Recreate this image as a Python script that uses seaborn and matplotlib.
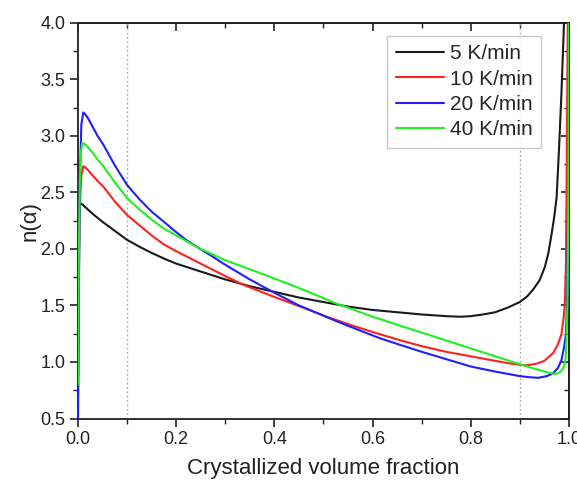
import numpy as np
import pandas as pd
import matplotlib
matplotlib.use("Agg")
import matplotlib.pyplot as plt
import seaborn as sns
from matplotlib.ticker import MultipleLocator, FormatStrFormatter

# ---- data ----
labels = ["5 K/min", "10 K/min", "20 K/min", "40 K/min"]
colors = ["#1a1a1a", "#ff2020", "#2020ff", "#20f020"]

x_5 = [0, 0.001, 0.003, 0.01, 0.02, 0.03, 0.05, 0.075, 0.1, 0.125, 0.15, 0.175,
       0.2, 0.25, 0.3, 0.35, 0.4, 0.45, 0.5, 0.55, 0.6, 0.65, 0.7, 0.75, 0.78,
       0.8, 0.825, 0.85, 0.875, 0.9, 0.915, 0.927, 0.94, 0.951, 0.958, 0.965,
       0.97, 0.975, 0.98, 0.985, 0.99, 0.992]
y_5 = [0.5, 1.9, 2.41, 2.39, 2.35, 2.31, 2.24, 2.16, 2.08, 2.02, 1.965, 1.915,
       1.87, 1.80, 1.73, 1.67, 1.62, 1.57, 1.53, 1.49, 1.46, 1.44, 1.42, 1.405, 1.40,
       1.405, 1.42, 1.44, 1.48, 1.53, 1.58, 1.64, 1.72, 1.84, 1.96, 2.14,
       2.28, 2.46, 2.9, 3.4, 4.0, 4.4]

x_10 = [0, 0.002, 0.004, 0.007, 0.011, 0.015, 0.02, 0.03, 0.04, 0.052, 0.075,
        0.1, 0.125, 0.15, 0.175, 0.2, 0.25, 0.3, 0.333, 0.35, 0.4, 0.45, 0.5,
        0.527, 0.55, 0.6, 0.65, 0.7, 0.75, 0.8, 0.85, 0.875, 0.9, 0.914, 0.934,
        0.95, 0.968, 0.978, 0.985, 0.99, 0.992, 0.994, 0.995, 0.996, 0.997, 0.998]
y_10 = [0.6, 1.8, 2.4, 2.65, 2.73, 2.72, 2.70, 2.65, 2.60, 2.55, 2.42,
        2.30, 2.21, 2.12, 2.04, 1.98, 1.87, 1.76, 1.69, 1.66, 1.575, 1.495, 1.41,
        1.37, 1.335, 1.265, 1.20, 1.14, 1.09, 1.05, 1.01, 0.99, 0.975, 0.97, 0.985,
        1.01, 1.08, 1.16, 1.25, 1.42, 1.55, 1.9, 2.43, 3.0, 3.6, 4.2]

x_20 = [0, 0.002, 0.004, 0.007, 0.011, 0.015, 0.02, 0.03, 0.04, 0.052, 0.075,
        0.1, 0.125, 0.15, 0.175, 0.194, 0.22, 0.245, 0.275, 0.3, 0.35, 0.401,
        0.45, 0.5, 0.527, 0.55, 0.6, 0.615, 0.65, 0.7, 0.75, 0.8, 0.85, 0.9,
        0.92, 0.9375, 0.955, 0.968, 0.978, 0.985, 0.99, 0.994, 0.996, 0.998,
        0.999, 1.0]
y_20 = [0.3, 1.6, 2.6, 3.1, 3.206, 3.19, 3.16, 3.08, 3.00, 2.92, 2.74,
        2.566, 2.44, 2.33, 2.24, 2.17, 2.08, 2.01, 1.93, 1.86, 1.73, 1.61,
        1.50, 1.41, 1.36, 1.32, 1.235, 1.21, 1.16, 1.09, 1.025, 0.96, 0.915, 0.875,
        0.865, 0.86, 0.875, 0.90, 0.95, 1.02, 1.13, 1.25, 1.5, 2.2,
        3.0, 4.5]

x_40 = [0, 0.002, 0.004, 0.006, 0.009, 0.013, 0.02, 0.03, 0.04, 0.052, 0.075,
        0.1, 0.125, 0.15, 0.175, 0.208, 0.245, 0.3, 0.35, 0.411, 0.45, 0.5,
        0.527, 0.55, 0.6, 0.615, 0.65, 0.7, 0.75, 0.8, 0.85, 0.9, 0.93, 0.955,
        0.97, 0.978, 0.984, 0.988, 0.992, 0.994, 0.995, 0.997, 0.998, 0.999, 1.0]
y_40 = [0.8, 2.0, 2.6, 2.85, 2.935, 2.93, 2.90, 2.85, 2.79, 2.73, 2.59,
        2.45, 2.35, 2.26, 2.18, 2.10, 2.01, 1.90, 1.82, 1.72, 1.655, 1.565,
        1.515, 1.48, 1.40, 1.38, 1.33, 1.26, 1.19, 1.12, 1.05, 0.98, 0.94, 0.91,
        0.895, 0.90, 0.92, 0.94, 0.99, 1.08, 1.19, 1.5, 2.0, 2.8, 4.5]

ref_lines = [0.1, 0.9]

xs = [x_5, x_10, x_20, x_40]
ys = [y_5, y_10, y_20, y_40]
frames = []
for lab, xv, yv in zip(labels, xs, ys):
    frames.append(pd.DataFrame({"x": xv, "y": yv, "rate": lab}))
df = pd.concat(frames, ignore_index=True)

sns.set_theme(style="ticks")
plt.rcParams["font.family"] = ["Liberation Sans", "DejaVu Sans"]

fig = plt.figure(figsize=(5.77, 4.83), dpi=100)
ax = fig.add_axes([0.135, 0.1335, 0.851, 0.8195])

for xv in ref_lines:
    ax.axvline(xv, color="#aaaaaa", lw=0.9, ls=(0, (1.5, 2)), zorder=1)

sns.lineplot(data=df, x="x", y="y", hue="rate", palette=colors,
             estimator=None, sort=False, lw=1.5, ax=ax, zorder=3)

ax.set_xlim(0, 1.0)
ax.set_ylim(0.5, 4.0)
ax.xaxis.set_major_locator(MultipleLocator(0.2))
ax.xaxis.set_minor_locator(MultipleLocator(0.1))
ax.yaxis.set_major_locator(MultipleLocator(0.5))
ax.yaxis.set_minor_locator(MultipleLocator(0.25))
ax.xaxis.set_major_formatter(FormatStrFormatter("%.1f"))
ax.yaxis.set_major_formatter(FormatStrFormatter("%.1f"))

for s in ax.spines.values():
    s.set_visible(True)
    s.set_color("#222222")
    s.set_linewidth(1.3)

ax.tick_params(axis="both", which="major", direction="out", length=6, width=1.2,
               color="#222222", labelsize=13, labelcolor="#222222", pad=3)
ax.tick_params(axis="both", which="minor", direction="out", length=3.5, width=1.0,
               color="#222222")
ax.tick_params(which="both", top=False, right=False)

secx = ax.secondary_xaxis("top")
secx.xaxis.set_major_locator(MultipleLocator(0.2))
secx.xaxis.set_minor_locator(MultipleLocator(0.1))
secx.tick_params(which="major", direction="in", length=6, width=1.2, color="#222222",
                 labeltop=False)
secx.tick_params(which="minor", direction="in", length=3.5, width=1.0, color="#222222")
secx.spines["top"].set_linewidth(1.3)
secx.spines["top"].set_color("#222222")
secy = ax.secondary_yaxis("right")
secy.yaxis.set_major_locator(MultipleLocator(0.5))
secy.yaxis.set_minor_locator(MultipleLocator(0.25))
secy.tick_params(which="major", direction="in", length=6, width=1.2, color="#222222",
                 labelright=False)
secy.tick_params(which="minor", direction="in", length=3.5, width=1.0, color="#222222")
secy.spines["right"].set_linewidth(1.3)
secy.spines["right"].set_color("#222222")

ax.set_xlabel("Crystallized volume fraction", fontsize=16, color="#222222", labelpad=7)
ax.set_ylabel("n(α)", fontsize=16, color="#222222", labelpad=0)

handles, labs = ax.get_legend_handles_labels()
leg = ax.legend(handles, labs, loc="upper right", fontsize=15, frameon=True,
                fancybox=False, edgecolor="#bbbbbb", handlelength=2.3,
                handletextpad=0.3, labelspacing=0.3, borderpad=0.4,
                bbox_to_anchor=(0.943, 0.966), borderaxespad=0.0)
leg.get_frame().set_linewidth(1.0)
for line in leg.get_lines():
    line.set_linewidth(1.5)

fig.savefig("out.png", dpi=100)
